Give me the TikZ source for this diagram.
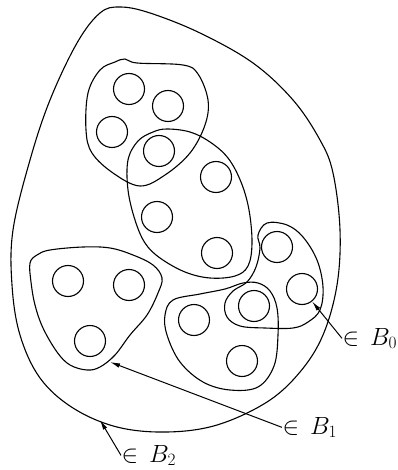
\documentclass[tikz,border=0pt]{standalone}
\usepackage{amsmath, amssymb}
\usetikzlibrary{arrows.meta}

\begin{document}
\begin{tikzpicture}[x=1pt, y=-1pt, line width=1.1pt,
  ball/.style={circle, draw, minimum size=31pt, inner sep=0pt},
  blob/.style={smooth cycle, tension=0.6},
  member/.style={font=\fontsize{25}{30}\selectfont, anchor=base west, inner sep=0pt},
  pointer/.style={-{Latex[length=10pt, width=4.5pt]}, line width=1pt}]
\useasboundingbox (0,0) rectangle (397,470);
\draw plot[blob] coordinates {(120,7) (150,13) (200,33) (253,63) (293,100)
  (320,140) (333,173) (340,230) (337,285) (323,335) (300,372) (267,402)
  (217,425) (167,432) (117,427) (73,408) (40,378) (20,335) (12,285)
  (13,230) (30,160) (50,100) (77,43) (100,13)};
\draw plot[blob] coordinates {(100,70) (115,62) (125,59) (137,63) (183,65)
  (198,74) (208,100) (205,125) (190,153) (165,175) (140,186) (113,173)
  (92,153) (86,130) (88,93)};
\draw plot[blob] coordinates {(167,129) (190,132) (210,142) (228,158)
  (241,182) (249,210) (252,243) (248,266) (235,276) (210,278) (185,272)
  (160,258) (145,243) (135,220) (128,190) (128,160) (138,141) (153,132)};
\draw plot[blob] coordinates {(30,263) (37,255) (50,250) (83,247) (110,248)
  (133,255) (153,265) (162,278) (158,293) (147,315) (130,335) (115,355)
  (100,367) (87,370) (70,365) (57,352) (43,328) (35,305) (31,282)};
\draw plot[blob] coordinates {(173,300) (200,294) (225,289) (243,283)
  (258,283) (270,291) (277,308) (278,335) (274,366) (258,387) (230,390)
  (203,382) (180,362) (167,335) (165,315)};
\draw plot[blob] coordinates {(267,223) (287,225) (303,237) (317,260)
  (323,287) (320,310) (308,322) (293,328) (265,328) (240,326) (227,317)
  (225,303) (233,291) (247,282) (256,267) (260,248) (258,235)};
\node[ball] (c1) at (129,89) {};
\node[ball] (c2) at (168,106) {};
\node[ball] (c3) at (112,132) {};
\node[ball] (c4) at (159,151) {};
\node[ball] (c5) at (216,177) {};
\node[ball] (c6) at (157,217) {};
\node[ball] (c7) at (217,253) {};
\node[ball] (c8) at (277,247) {};
\node[ball] (c9) at (68,281) {};
\node[ball] (c10) at (129,285) {};
\node[ball] (c11) at (90,341) {};
\node[ball] (c12) at (194,320) {};
\node[ball] (c13) at (254,306) {};
\node[ball] (c14) at (302,289) {};
\node[ball] (c15) at (242,361) {};
\node[member] (b0) at (342,345) {$\in\,B_0$};
\node[member] (b1) at (282,434) {$\in\,B_1$};
\node[member] (b2) at (121,462) {$\in\,B_2$};
\coordinate (h1) at (110,362);
\coordinate (h2) at (100,420);
\draw[pointer] (b0.west) -- (c14);
\draw[pointer] (b1.west) -- (h1);
\draw[pointer] (b2.west) -- (h2);
\end{tikzpicture}
\end{document}
